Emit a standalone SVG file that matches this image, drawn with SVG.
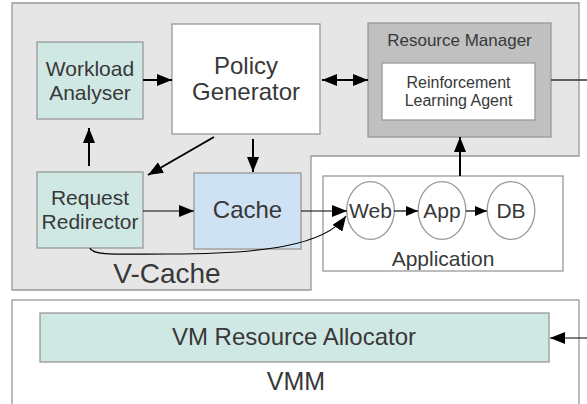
<svg xmlns="http://www.w3.org/2000/svg" width="587" height="404" viewBox="0 0 587 404">
<defs>
<style>
text{font-family:"Liberation Sans",Arial,sans-serif;fill:#383838;text-anchor:middle}
.box{stroke:#999;stroke-width:1.3}
.teal{fill:#d0e8e4}
.thick{stroke:#000;stroke-width:2;fill:none}
.thin{stroke:#000;stroke-width:1.2;fill:none}
.ah{marker-end:url(#ah)}
.as{marker-end:url(#as)}
</style>
<marker id="ah" markerUnits="userSpaceOnUse" markerWidth="15" markerHeight="12" refX="15" refY="6" orient="auto"><path d="M0,0 L15,6 L0,12 z" fill="#000"/></marker>
<marker id="ahs" markerUnits="userSpaceOnUse" markerWidth="15" markerHeight="12" refX="0" refY="6" orient="auto"><path d="M15,0 L0,6 L15,12 z" fill="#000"/></marker>
<marker id="as" markerUnits="userSpaceOnUse" markerWidth="12" markerHeight="10" refX="12" refY="5" orient="auto"><path d="M0,0 L12,5 L0,10 z" fill="#000"/></marker>
</defs>
<rect width="587" height="404" fill="#fff"/>
<g id="vcache">
<path class="box" d="M12,3 H579 V156 H311 V290 H12 Z" fill="#e6e6e6"/>
<text x="167" y="283" font-size="28">V-Cache</text>
</g>
<g id="workload-analyser">
<rect class="box teal" x="37" y="42" width="106" height="77"/>
<text x="90" y="76" font-size="21">Workload</text>
<text x="90" y="100" font-size="21">Analyser</text>
</g>
<g id="policy-generator">
<rect class="box" x="172" y="24" width="148" height="110" fill="#fff"/>
<text x="246" y="74" font-size="24">Policy</text>
<text x="246" y="100" font-size="24">Generator</text>
</g>
<g id="resource-manager">
<rect class="box" x="368" y="23" width="183" height="114" fill="#c0c0c0"/>
<text x="459.5" y="46" font-size="17">Resource Manager</text>
</g>
<g id="rl-agent">
<rect class="box" x="382" y="63" width="153" height="57" fill="#fff"/>
<text x="458.5" y="88" font-size="16">Reinforcement</text>
<text x="458.5" y="106" font-size="16">Learning Agent</text>
</g>
<g id="request-redirector">
<rect class="box teal" x="37" y="172" width="106" height="76"/>
<text x="90" y="205" font-size="21">Request</text>
<text x="90" y="229" font-size="21">Redirector</text>
</g>
<g id="cache">
<rect class="box" x="194" y="173" width="107" height="76" fill="#cfe2f3"/>
<text x="247.5" y="218" font-size="24">Cache</text>
</g>
<g id="application">
<rect class="box" x="323" y="176" width="240" height="95" fill="#fff"/>
<text x="443" y="266" font-size="21">Application</text>
</g>
<g id="web">
<ellipse class="box" cx="370.5" cy="210.5" rx="23.8" ry="28.8" fill="#fff"/>
<text x="370.5" y="218" font-size="21">Web</text>
</g>
<g id="app">
<ellipse class="box" cx="442" cy="210.5" rx="23.8" ry="28.8" fill="#fff"/>
<text x="442" y="218" font-size="21">App</text>
</g>
<g id="db">
<ellipse class="box" cx="511" cy="210.5" rx="23.8" ry="28.8" fill="#fff"/>
<text x="511" y="218" font-size="21">DB</text>
</g>
<g id="vmm">
<rect class="box" x="12" y="300" width="567" height="110" fill="#fff"/>
<text x="296" y="390" font-size="25">VMM</text>
</g>
<g id="vm-resource-allocator">
<rect class="box teal" x="40" y="313" width="509" height="49"/>
<text x="294" y="345" font-size="24">VM Resource Allocator</text>
</g>
<g id="connectors">
<line class="thick ah" x1="143" y1="80" x2="172" y2="80"/>
<line class="thick ah" x1="89" y1="166" x2="89" y2="128"/>
<line class="thick ah" x1="214" y1="137" x2="148" y2="175"/>
<line class="thick ah" x1="253" y1="139" x2="253" y2="172"/>
<line class="thick ah" x1="322" y1="80" x2="368" y2="80" style="marker-start:url(#ahs)"/>
<line class="thick ah" x1="460" y1="176" x2="460" y2="137"/>
<line class="thin ah" x1="143" y1="211" x2="194" y2="211"/>
<line class="thin ah" x1="301" y1="211" x2="347" y2="211"/>
<path class="thin ah" d="M90,248 C92,256 120,254 170,254 C260,254 325,246 346,216"/>
<line class="thin as" x1="394" y1="211" x2="418" y2="211"/>
<line class="thin as" x1="466" y1="211" x2="487" y2="211"/>
<line x1="551" y1="80" x2="587" y2="80" stroke="#333" stroke-width="1.5"/>
<line class="thin ah" x1="587" y1="338" x2="550" y2="338"/>
</g>
</svg>
